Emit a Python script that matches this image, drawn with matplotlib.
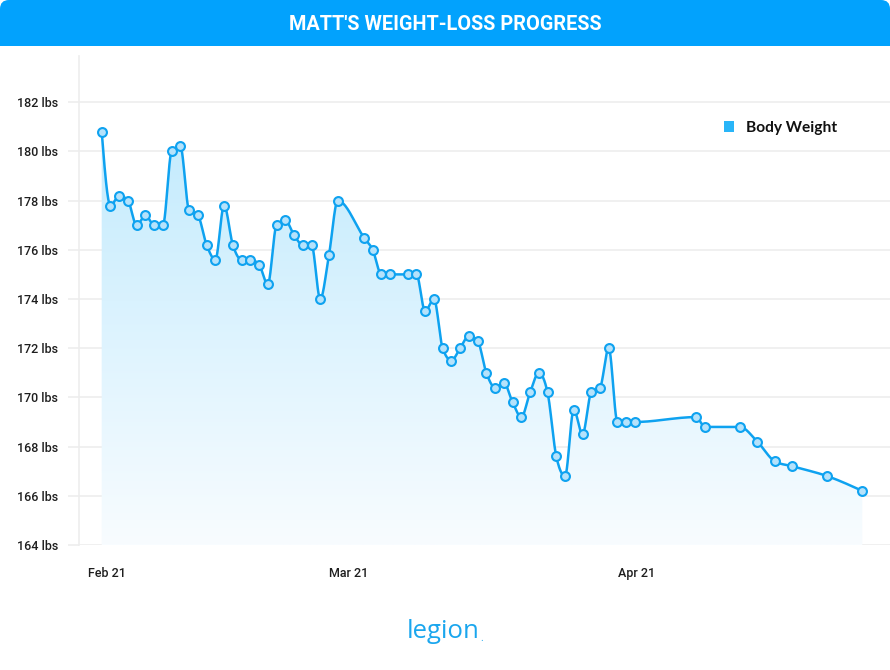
import numpy as np
import matplotlib
matplotlib.use("Agg")
import matplotlib.pyplot as plt
from matplotlib.patches import FancyBboxPatch, Rectangle, Patch, Polygon

# ---------------- data ----------------
days = [0, 1, 2, 3, 4, 5, 6, 7, 8, 9, 10, 11, 12, 13, 14, 15, 16, 17, 18, 19,
        20, 21, 22, 23, 24, 25, 26, 27, 30, 31, 32, 33, 35, 36, 37, 38, 39, 40,
        41, 42, 43, 44, 45, 46, 47, 48, 49, 50, 51, 52, 53, 54, 55, 56, 57, 58,
        59, 60, 61, 68, 69, 73, 75, 77, 79, 83, 87]
weights = [180.8, 177.8, 178.2, 178.0, 177.0, 177.4, 177.0, 177.0, 180.0, 180.2,
           177.6, 177.4, 176.2, 175.6, 177.8, 176.2, 175.6, 175.6, 175.4, 174.6,
           177.0, 177.2, 176.6, 176.2, 176.2, 174.0, 175.8, 178.0, 176.5, 176.0,
           175.0, 175.0, 175.0, 175.0, 173.5, 174.0, 172.0, 171.5, 172.0, 172.5,
           172.3, 171.0, 170.4, 170.6, 169.8, 169.2, 170.2, 171.0, 170.2, 167.6,
           166.8, 169.5, 168.5, 170.2, 170.4, 172.0, 169.0, 169.0, 169.0, 169.2,
           168.8, 168.8, 168.2, 167.4, 167.2, 166.8, 166.2]
x_tick_labels = ["Feb 21", "Mar 21", "Apr 21"]
x_tick_pos = [0.6, 28.2, 61.2]
y_ticks = [164, 166, 168, 170, 172, 174, 176, 178, 180, 182]
y_tick_labels = [f"{v} lbs" for v in y_ticks]
series_name = "Body Weight"
title = "MATT'S WEIGHT-LOSS PROGRESS"
brand = "legion"

# ---------------- monotone cubic (d3 curveMonotoneX style) ----------------
def monotone_curve(x, y, n=24):
    x = np.asarray(x, float); y = np.asarray(y, float)
    m = len(x)
    h = np.diff(x); s = np.diff(y) / h
    t = np.zeros(m)
    for i in range(1, m - 1):
        h0, h1, s0, s1 = h[i - 1], h[i], s[i - 1], s[i]
        p = (s0 * h1 + s1 * h0) / (h0 + h1)
        t[i] = (np.sign(s0) + np.sign(s1)) * min(abs(s0), abs(s1), 0.5 * abs(p))
    t[0] = (3 * s[0] - t[1]) / 2
    t[-1] = (3 * s[-1] - t[-2]) / 2
    xs, ys = [], []
    for i in range(m - 1):
        u = np.linspace(0, 1, n, endpoint=False)
        h00 = 2 * u**3 - 3 * u**2 + 1
        h10 = u**3 - 2 * u**2 + u
        h01 = -2 * u**3 + 3 * u**2
        h11 = u**3 - u**2
        xs.append(x[i] + u * h[i])
        ys.append(h00 * y[i] + h10 * h[i] * t[i] + h01 * y[i + 1] + h11 * h[i] * t[i + 1])
    xs.append([x[-1]]); ys.append([y[-1]])
    return np.concatenate(xs), np.concatenate(ys)

cx, cy = monotone_curve(days, weights)

# ---------------- figure ----------------
W, H = 890, 670
fig = plt.figure(figsize=(W / 100, H / 100), dpi=100)
fig.patch.set_facecolor("white")

bg = fig.add_axes([0, 0, 1, 1], zorder=0)
bg.set_xlim(0, W); bg.set_ylim(H, 0); bg.axis("off")

header_color = "#02A2FD"
bg.add_patch(FancyBboxPatch((0, 0), W, 46, boxstyle="round,pad=0,rounding_size=9",
                            facecolor=header_color, edgecolor="none"))
bg.add_patch(Rectangle((0, 20), W, 26, facecolor=header_color, edgecolor="none"))
bg.text(W / 2, 24, title, color="white", ha="center", va="center",
        fontsize=14.3, fontweight="bold", family="Roboto")
bg.text(443, 632, brand, color="#1AA6EE", ha="center", va="center",
        fontsize=18.5, family="Open Sans")
bg.text(481.5, 641, ".", color="#1AA6EE", ha="center", va="baseline",
        fontsize=7, family="Open Sans")

# main axes
left, right, top, bottom = 79, 890, 56, 545
ax = fig.add_axes([left / W, 1 - bottom / H, (right - left) / W, (bottom - top) / H], zorder=1)
ax.patch.set_alpha(0)
px_per_day = 8.742
x0 = (left - 101.7) / px_per_day
x1 = (right - 101.7) / px_per_day
ax.set_xlim(x0, x1)
ax.set_ylim(164, 164 + (bottom - top) / 24.6)

for sp in ["top", "right"]:
    ax.spines[sp].set_visible(False)
ax.spines["left"].set_color("#EDEDED")
ax.spines["left"].set_linewidth(1.2)
ax.spines["bottom"].set_visible(False)

ax.set_yticks(y_ticks)
ax.set_yticklabels(y_tick_labels, family="Roboto", fontsize=9, fontweight="medium", color="#1E1E1E")
ax.tick_params(axis="y", length=8, width=1.2, color="#EDEDED", pad=7)
ax.yaxis.grid(True, color="#EDEDED", linewidth=1.2)
ax.set_axisbelow(True)

ax.set_xticks(x_tick_pos)
ax.set_xticklabels(x_tick_labels, family="Roboto", fontsize=9, fontweight="medium", color="#1E1E1E")
ax.tick_params(axis="x", length=0, pad=16)

# gradient fill under the curve
ylo, yhi = ax.get_ylim()
grad = np.linspace(0, 1, 256)[:, None]
c_top = np.array([186, 232, 253]) / 255
c_bot = np.array([248, 252, 255]) / 255
img = c_bot[None, None, :] * (1 - grad[..., None]) + c_top[None, None, :] * grad[..., None]
img = np.repeat(img, 2, axis=1)
im = ax.imshow(img, extent=[x0, x1, ylo, yhi], origin="lower", aspect="auto", zorder=1.5)
poly_xy = np.column_stack([np.r_[cx, cx[-1], cx[0]], np.r_[cy, 164, 164]])
clip = Polygon(poly_xy, closed=True, transform=ax.transData, facecolor="none", edgecolor="none")
ax.add_patch(clip)
im.set_clip_path(clip)

line_color = "#0EA2F0"
ax.plot(cx, cy, color=line_color, linewidth=1.8, zorder=3, solid_capstyle="round")
ax.plot(days, weights, linestyle="none", marker="o", markersize=6.4,
        markerfacecolor="#B5E2FB", markeredgecolor=line_color, markeredgewidth=1.5, zorder=4)
ax.set_ylim(ylo, yhi)
ax.set_xlim(x0, x1)

leg = ax.legend(handles=[Patch(facecolor="#29B5F8", edgecolor="none", label=series_name)],
                loc="center left", bbox_to_anchor=(716 / W, 1 - 128 / H),
                bbox_transform=fig.transFigure, frameon=False, borderpad=0,
                handlelength=0.66, handleheight=0.66, handletextpad=0.8,
                prop={"family": "Lato", "weight": "bold", "size": 11.2})
for t in leg.get_texts():
    t.set_color("#111111")

fig.savefig("out.png", dpi=100, facecolor="white")
